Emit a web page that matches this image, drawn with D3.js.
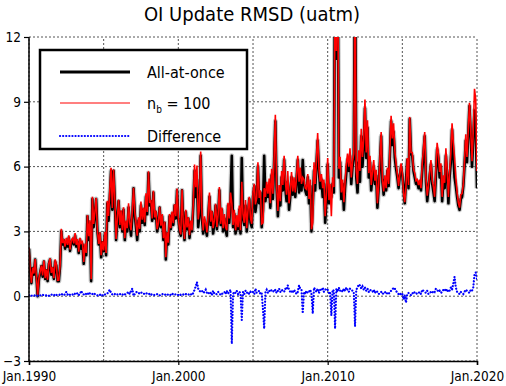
<!DOCTYPE html>
<html>
<head>
<meta charset="utf-8">
<script src="https://cdn.jsdelivr.net/npm/d3@7"></script>
<style>
  body { margin: 0; background: #fff; }
  svg { display: block; font-family: "DejaVu Sans Condensed", "DejaVu Sans", sans-serif; font-stretch: condensed; }
</style>
</head>
<body>
<svg id="chart" width="506" height="386"></svg>
<script>
// monthly values, Jan.1990 .. Jan.2020
var allAtOnce = [
  [2.2, 1.2, 0.6, 1.3, 1.0, 1.7, 0.9, 0.0, 0.8, 1.1, 1.4, 0.9], // 1990
  [1.6, 0.8, 1.2, 0.7, 1.5, 1.7, 1.0, 1.3, 0.8, 1.6, 1.4, 0.7], // 1991
  [0.7, 1.4, 3.0, 2.4, 2.6, 2.2, 2.5, 2.3, 2.7, 2.1, 2.5, 2.6], // 1992
  [2.4, 2.8, 2.3, 2.5, 2.0, 2.6, 2.2, 2.4, 1.5, 2.3, 1.9, 3.7], // 1993
  [2.6, 3.4, 0.7, 4.5, 3.2, 3.8, 4.5, 3.0, 2.4, 2.9, 1.8, 2.5], // 1994
  [2.1, 2.9, 1.9, 4.3, 3.5, 4.6, 5.8, 4.0, 5.8, 4.4, 2.6, 3.5], // 1995
  [4.4, 3.2, 3.9, 3.0, 4.0, 2.6, 3.4, 3.0, 4.1, 3.3, 2.8, 3.6], // 1996
  [5.0, 3.8, 3.2, 2.6, 3.5, 3.0, 4.2, 3.4, 4.0, 3.3, 4.6, 3.8], // 1997
  [5.7, 4.2, 4.4, 3.5, 4.8, 3.6, 3.9, 3.0, 3.3, 4.1, 3.2, 3.7], // 1998
  [2.6, 3.4, 1.7, 2.9, 2.4, 3.7, 3.1, 3.8, 3.3, 4.2, 3.6, 4.9], // 1999
  [3.6, 3.0, 2.8, 4.9, 3.3, 2.6, 3.9, 3.1, 3.6, 2.7, 3.4, 3.0], // 2000
  [4.2, 5.8, 4.6, 5.4, 3.2, 3.8, 6.5, 3.6, 2.9, 3.5, 3.1, 2.8], // 2001
  [3.7, 4.6, 3.3, 3.9, 2.9, 3.4, 4.2, 3.1, 3.6, 4.9, 3.3, 4.0], // 2002
  [3.0, 3.6, 3.1, 2.8, 4.2, 3.4, 4.5, 6.5, 3.2, 3.8, 2.9, 3.5], // 2003
  [3.1, 4.0, 2.9, 6.4, 3.6, 3.3, 4.2, 3.0, 3.8, 4.5, 3.4, 3.2], // 2004
  [4.6, 5.1, 3.9, 4.4, 6.0, 4.3, 4.8, 3.2, 4.0, 6.5, 4.4, 5.0], // 2005
  [4.6, 5.2, 4.1, 5.6, 4.5, 6.2, 8.1, 5.0, 3.7, 4.8, 4.2, 5.5], // 2006
  [4.9, 6.3, 5.0, 4.4, 5.3, 4.0, 4.6, 5.5, 4.7, 5.2, 4.6, 5.4], // 2007
  [6.3, 4.8, 5.6, 4.9, 6.3, 5.2, 4.9, 4.7, 5.5, 4.3, 5.1, 3.0], // 2008
  [4.2, 5.8, 4.9, 6.1, 7.2, 5.8, 5.0, 5.4, 4.6, 5.2, 3.4, 4.4], // 2009
  [6.1, 4.3, 5.0, 4.6, 5.2, 4.8, 16.0, 11.0, 16.0, 5.5, 6.2, 4.5], // 2010
  [5.2, 4.0, 5.0, 5.7, 6.3, 5.8, 6.5, 5.2, 6.0, 6.4, 16.0, 5.5], // 2011
  [4.8, 6.2, 5.3, 7.4, 6.0, 7.0, 8.7, 6.4, 7.8, 5.5, 6.2, 4.9], // 2012
  [5.6, 6.0, 5.2, 5.6, 4.1, 5.0, 6.2, 7.4, 5.3, 4.7, 5.4, 4.9], // 2013
  [5.8, 5.1, 6.5, 8.1, 7.0, 7.6, 6.4, 5.9, 5.5, 5.0, 5.6, 6.0], // 2014
  [5.6, 4.9, 4.3, 5.4, 6.3, 5.0, 8.2, 6.6, 6.5, 5.8, 5.5, 5.2], // 2015
  [5.3, 5.0, 5.2, 4.9, 5.8, 6.6, 7.4, 5.3, 4.4, 5.0, 5.6, 6.1], // 2016
  [5.2, 4.8, 4.4, 5.6, 6.8, 6.4, 5.5, 6.0, 4.4, 5.3, 5.0, 6.5], // 2017
  [5.6, 4.3, 5.5, 6.2, 7.7, 6.5, 5.5, 5.1, 4.6, 4.2, 4.0, 4.5], // 2018
  [4.6, 5.1, 6.0, 7.2, 6.2, 7.5, 8.8, 7.4, 6.0, 7.2, 8.6, 8.0], // 2019
  [5.0]                                                          // 2020
].flat();

// n_b = 100 minus all-at-once
var difference = [
  [0.05, 0, 0.02, 0.03, 0.05, 0.02, 0, 0.03, 0.05, 0.04, 0.02, 0.06],
  [0.05, 0.03, 0.04, 0.06, 0.02, 0.05, 0.08, 0.04, 0.03, 0.1, 0.06, 0.04],
  [0.05, 0.08, 0.12, 0.06, 0.04, 0.1, 0.2, 0.08, 0.12, 0.06, 0.1, 0.08],
  [0.05, 0.12, 0.08, 0.15, 0.06, 0.1, 0.25, 0.12, 0.08, 0.14, 0.1, 0.06],
  [0.18, 0.12, 0.08, 0.1, 0.15, 0.1, 0.05, 0.04, 0.02, 0.06, 0.1, 0.04],
  [0.02, 0.08, 0.1, 0.12, 0.22, 0.3, 0.15, 0.08, 0.06, 0.1, 0.05, 0.08],
  [0.06, 0.1, 0.08, 0.05, 0.12, 0.08, 0.1, 0.15, 0.2, 0.1, 0.25, 0.35],
  [0.02, 0.1, 0.18, 0.2, 0.15, 0.12, 0.18, 0.14, 0.1, 0.12, 0.16, 0.1],
  [0.08, 0.12, 0.06, 0.1, 0.08, 0.05, 0.06, 0.1, 0.08, 0.04, 0.06, 0.1],
  [0.08, 0.05, 0.1, 0.06, 0.08, 0.1, 0.05, 0.12, 0.08, 0.06, 0.1, 0.08],
  [0.05, 0.1, 0.06, 0.04, 0.08, 0.05, 0.1, 0.08, 0.06, 0.12, 0.1, 0.05],
  [0.15, 0.3, 0.45, 0.65, 0.35, 0.25, 0.2, 0.25, 0.15, 0.2, 0.3, 0.15],
  [0.1, 0.2, 0.15, 0.05, 0.25, 0.12, 0.08, 0.1, 0.2, 0.15, 0.05, 0.1],
  [0.15, 0.2, 0.1, 0.25, 0.12, 0.2, 0.3, -2.2, 0.1, 0.2, 0.15, 0.25],
  [0.1, 0.2, 0.15, -1.1, 0.2, 0.1, 0.25, 0.15, 0.2, 0.1, 0.2, 0.15],
  [0.2, 0.1, 0.35, 0.15, 0.2, 0.25, 0.1, 0.15, -0.6, -1.5, 0.2, 0.3],
  [0.15, 0.25, 0.2, 0.3, 0.25, 0.2, 0.3, 0.15, 0.25, 0.35, 0.2, 0.3],
  [0.25, 0.2, 0.35, 0.3, 0.5, 0.3, 0.2, 0.25, 0.15, 0.3, 0.2, 0.1],
  [0.2, 0.5, 0.35, 0.3, -0.8, 0.2, 0.1, 0.25, 0.15, 0.2, 0.3, 0.1],
  [-0.8, 0.4, 0.3, 0.2, 0.35, 0.15, 0.3, 0.25, 0.4, 0.2, 0.3, 0.35],
  [0.3, 0.15, 0.2, -0.9, 0.3, 0.25, -1.5, 0.35, 0.2, 0.4, 0.25, 0.3],
  [0.2, 0.35, 0.25, 0.4, 0.3, 0.2, 0.35, 0.3, 0.25, 0.2, -1.4, 0.3],
  [0.4, 0.55, 0.5, 0.35, 0.45, 0.3, 0.4, 0.25, 0.35, 0.2, 0.3, 0.25],
  [0.2, 0.3, 0.15, 0.25, 0.2, 0.1, 0.15, 0.2, 0.1, 0.15, 0.2, 0.1],
  [0.15, 0.1, 0.2, 0.25, 0.3, 0.4, 0.35, 0.25, 0.15, 0.1, 0.05, 0.15],
  [0.1, -0.15, 0.05, -0.3, 0.1, 0.15, 0.1, 0.05, 0.15, 0.1, 0.2, 0.15],
  [0.1, 0.15, 0.2, 0.1, 0.3, 0.25, 0.2, 0.15, 0.25, 0.1, 0.15, 0.2],
  [0.15, 0.25, 0.2, 0.35, 0.3, 0.2, 0.25, 0.15, 0.2, 0.3, 0.25, 0.35],
  [0.2, 0.3, 0.25, 0.4, 0.3, 0.6, 0.9, 0.4, 0.2, 0.15, 0.1, 0.2],
  [0.15, 0.1, 0.2, 0.3, 0.25, 0.2, 0.15, 0.3, 0.25, 0.4, 1.0, 1.1],
  [0.8]
].flat();

var yTicks = [-3, 0, 3, 6, 9, 12];
var xLabelYears = [1990, 2000, 2010, 2020];
var xGridYears = [1990, 1995, 2000, 2005, 2010, 2015, 2020];

var dates = allAtOnce.map(function(d, i) { return new Date(1990, i, 1); });
var nb100 = allAtOnce.map(function(d, i) { return d + difference[i]; });

var width = 506, height = 386;
var margin = {top: 37, right: 29, bottom: 25, left: 29};

var svg = d3.select("#chart");

var x = d3.scaleTime()
    .domain([new Date(1990, 0, 1), new Date(2020, 0, 1)])
    .range([margin.left, width - margin.right]);
var y = d3.scaleLinear()
    .domain([-3, 12])
    .range([height - margin.bottom, margin.top]);

svg.append("defs").append("clipPath").attr("id", "clip")
  .append("rect")
    .attr("x", margin.left).attr("y", margin.top)
    .attr("width", width - margin.left - margin.right)
    .attr("height", height - margin.top - margin.bottom);

// grid
var grid = svg.append("g").attr("stroke", "#555").attr("stroke-width", 1)
    .attr("stroke-dasharray", "2,2");
grid.selectAll(".gx").data(xGridYears).enter().append("line")
    .attr("x1", function(d) { return x(new Date(d, 0, 1)); })
    .attr("x2", function(d) { return x(new Date(d, 0, 1)); })
    .attr("y1", y(-3)).attr("y2", y(12));
grid.selectAll(".gy").data(yTicks).enter().append("line")
    .attr("x1", x.range()[0]).attr("x2", x.range()[1])
    .attr("y1", function(d) { return y(d); })
    .attr("y2", function(d) { return y(d); });

// lines
var line = d3.line()
    .x(function(d, i) { return x(dates[i]); })
    .y(function(d) { return y(d); });

var plot = svg.append("g").attr("clip-path", "url(#clip)");
plot.append("path").datum(allAtOnce)
    .attr("d", line).attr("fill", "none")
    .attr("stroke", "#888").attr("stroke-opacity", 0.45).attr("stroke-width", 5)
    .attr("stroke-linejoin", "round");
plot.append("path").datum(allAtOnce)
    .attr("d", line).attr("fill", "none")
    .attr("stroke", "#000").attr("stroke-width", 2.6)
    .attr("stroke-linejoin", "round");
plot.append("path").datum(nb100)
    .attr("d", line).attr("fill", "none")
    .attr("stroke", "#ff0000").attr("stroke-width", 1.6);
plot.append("path").datum(difference)
    .attr("d", line).attr("fill", "none")
    .attr("stroke", "#0000ff").attr("stroke-width", 2.2)
    .attr("stroke-linecap", "round")
    .attr("stroke-dasharray", "0.1,3");

// axes
var yAxis = svg.append("g")
    .attr("transform", "translate(" + margin.left + ",0)")
    .call(d3.axisLeft(y).tickValues(yTicks).tickSize(5).tickPadding(3));
var xAxis = svg.append("g")
    .attr("transform", "translate(0," + (height - margin.bottom) + ")")
    .call(d3.axisBottom(x)
      .tickValues(xLabelYears.map(function(d) { return new Date(d, 0, 1); }))
      .tickFormat(d3.timeFormat("Jan.%Y"))
      .tickSize(4).tickPadding(6));
[yAxis, xAxis].forEach(function(a) {
  a.select(".domain").attr("stroke", "#000").attr("stroke-width", 1.5);
  a.selectAll(".tick line").attr("stroke", "#000").attr("stroke-width", 1.2);
  a.selectAll("text").attr("font-size", 13.5).attr("fill", "#000")
    .attr("font-family", "DejaVu Sans Condensed, DejaVu Sans, sans-serif");
});
yAxis.select(".domain").attr("d", "M0," + y(-3) + "V" + y(12));

// title
svg.append("text")
    .attr("x", 252).attr("y", 21)
    .attr("text-anchor", "middle")
    .attr("font-size", 20)
    .text("OI Update RMSD (uatm)");

// legend
var legend = svg.append("g");
legend.append("rect")
    .attr("x", 40).attr("y", 50).attr("width", 207).attr("height", 99)
    .attr("fill", "#fff").attr("stroke", "#000").attr("stroke-width", 2.5);
var rows = [
  {y: 72, stroke: "#000", w: 3, dash: null, cap: "butt"},
  {y: 103, stroke: "#ff0000", w: 1.2, dash: null, cap: "butt"},
  {y: 136, stroke: "#0000ff", w: 2.2, dash: "0.1,3", cap: "round"}
];
rows.forEach(function(r) {
  legend.append("line")
      .attr("x1", 60).attr("x2", 130).attr("y1", r.y).attr("y2", r.y)
      .attr("stroke", r.stroke).attr("stroke-width", r.w)
      .attr("stroke-linecap", r.cap)
      .attr("stroke-dasharray", r.dash);
});
legend.append("text").attr("x", 147).attr("y", 78).attr("font-size", 16).text("All-at-once");
var nb = legend.append("text").attr("x", 147).attr("y", 109).attr("font-size", 16);
nb.append("tspan").text("n");
nb.append("tspan").attr("dy", 4).attr("font-size", 10).text("b");
nb.append("tspan").attr("dy", -4).text(" = 100");
legend.append("text").attr("x", 147).attr("y", 142).attr("font-size", 16).text("Difference");
</script>
</body>
</html>
